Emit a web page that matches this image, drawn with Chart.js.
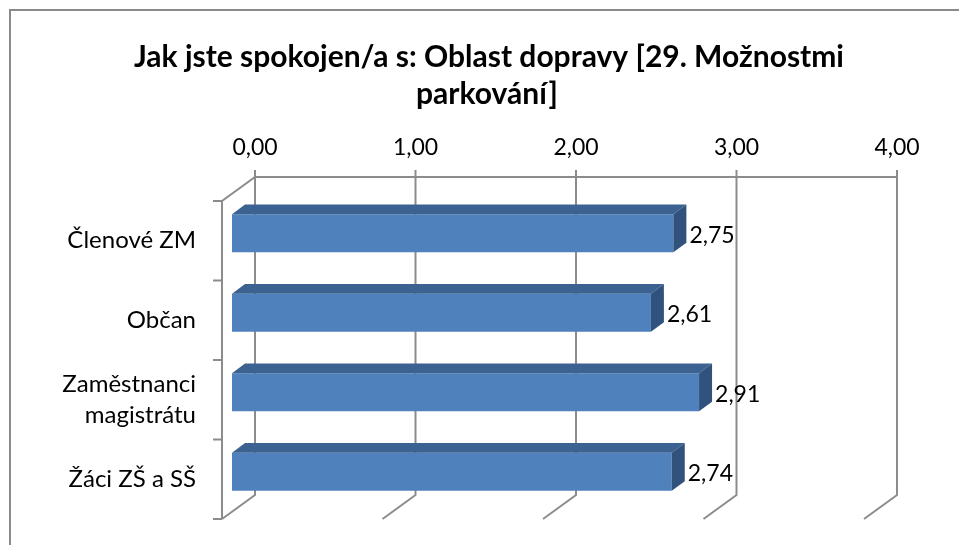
<!DOCTYPE html>
<html>
<head>
<meta charset="utf-8">
<script src="https://cdn.jsdelivr.net/npm/chart.js@4/dist/chart.umd.min.js"></script>
<style>
  html, body { margin: 0; padding: 0; background: #fff; }
  canvas { display: block; }
</style>
</head>
<body>
<canvas id="barChart" width="959" height="545"></canvas>
<script>
const titleLines = ['Jak jste spokojen/a s: Oblast dopravy [29. Možnostmi', 'parkování]'];
const categories = [['Členové ZM'], ['Občan'], ['Zaměstnanci', 'magistrátu'], ['Žáci ZŠ a SŠ']];
const values = [2.75, 2.61, 2.91, 2.74];
const axisMin = 0;
const axisMax = 4;

const FONT = 'Lato';
const GRID = '#8c8c8c';

// depth of the pseudo-3D box, relative to the plane the bar faces sit on
const back = { x: 23, y: -16.5 };
const front = { x: -10, y: 7.5 };
const barDepth = { x: 13, y: -9.7 };

function fmt(v) {
    return v.toFixed(2).replace('.', ',');
}

const frame = {
    id: 'frame',
    beforeDraw(chart) {
        const ctx = chart.ctx;
        ctx.save();
        ctx.strokeStyle = '#8a8a8a';
        ctx.lineWidth = 2;
        ctx.strokeRect(10, 10, 1000, 1000);
        ctx.fillStyle = '#000';
        ctx.font = 'bold 30px ' + FONT;
        ctx.textAlign = 'center';
        ctx.textBaseline = 'alphabetic';
        ctx.fillText(titleLines[0], 489, 67);
        ctx.fillText(titleLines[1], 487, 104);
        ctx.restore();
    }
};

const box3d = {
    id: 'box3d',
    beforeDatasetsDraw(chart) {
        const ctx = chart.ctx;
        const a = chart.chartArea;
        const xs = chart.scales.x;
        const ys = chart.scales.y;
        const x0 = xs.getPixelForValue(axisMin);
        const x1 = xs.getPixelForValue(axisMax);
        ctx.save();
        ctx.strokeStyle = GRID;
        ctx.lineWidth = 2;
        ctx.beginPath();
        // back wall gridlines with their floor diagonals
        xs.ticks.forEach(t => {
            const X = xs.getPixelForValue(t.value) + back.x;
            ctx.moveTo(X, a.top + back.y - 7);
            ctx.lineTo(X, a.bottom + back.y);
            ctx.lineTo(X - back.x + front.x, a.bottom + front.y);
        });
        ctx.moveTo(x1 + back.x, a.top + back.y);
        ctx.lineTo(x0 + back.x, a.top + back.y);
        ctx.lineTo(x0 + front.x, a.top + front.y);
        ctx.lineTo(x0 + front.x, a.bottom + front.y);
        // category ticks on the front axis
        const n = categories.length;
        const band = (a.bottom - a.top) / n;
        for (let i = 0; i <= n; i++) {
            const y = ys.getPixelForValue(0) - band / 2 + i * band + front.y;
            ctx.moveTo(x0 + front.x - 9, y);
            ctx.lineTo(x0 + front.x, y);
        }
        ctx.stroke();
        ctx.restore();
    },
    afterDatasetsDraw(chart) {
        const ctx = chart.ctx;
        const meta = chart.getDatasetMeta(0);
        ctx.save();
        meta.data.forEach((bar, i) => {
            const p = bar.getProps(['x', 'y', 'base', 'height'], true);
            const top = p.y - p.height / 2;
            const bottom = p.y + p.height / 2;
            ctx.fillStyle = '#3c6291';
            ctx.beginPath();
            ctx.moveTo(p.base, top);
            ctx.lineTo(p.base + barDepth.x, top + barDepth.y);
            ctx.lineTo(p.x + barDepth.x, top + barDepth.y);
            ctx.lineTo(p.x, top);
            ctx.closePath();
            ctx.fill();
            ctx.fillStyle = '#31527d';
            ctx.beginPath();
            ctx.moveTo(p.x, top);
            ctx.lineTo(p.x + barDepth.x, top + barDepth.y);
            ctx.lineTo(p.x + barDepth.x, bottom + barDepth.y);
            ctx.lineTo(p.x, bottom);
            ctx.closePath();
            ctx.fill();

            ctx.fillStyle = '#000';
            ctx.font = '23px ' + FONT;
            ctx.textAlign = 'left';
            ctx.textBaseline = 'middle';
            ctx.fillText(fmt(values[i]), p.x + barDepth.x + 3, p.y + 2);
        });
        ctx.restore();
    }
};

new Chart(document.getElementById('barChart'), {
    type: 'bar',
    data: {
        labels: categories,
        datasets: [{
            data: values,
            backgroundColor: '#4f81bd',
            borderWidth: 0,
            barPercentage: 0.48,
            categoryPercentage: 1
        }]
    },
    options: {
        indexAxis: 'y',
        responsive: false,
        animation: false,
        layout: { padding: { top: 100, right: 85, bottom: 33.5, left: 0 } },
        plugins: {
            legend: { display: false },
            title: { display: false },
            tooltip: { enabled: false }
        },
        scales: {
            x: {
                position: 'top',
                min: axisMin,
                max: axisMax,
                grid: { display: false, drawTicks: false },
                border: { display: false },
                ticks: {
                    stepSize: 1,
                    padding: 32.5,
                    labelOffset: back.x,
                    color: '#000',
                    font: { family: FONT, size: 23 },
                    callback: v => fmt(v)
                },
                afterFit(scale) {
                    scale.height = 93.5;
                    scale.paddingLeft = 0;
                    scale.paddingRight = 0;
                }
            },
            y: {
                grid: { display: false, drawTicks: false },
                border: { display: false },
                ticks: {
                    padding: 36,
                    labelOffset: front.y,
                    color: '#000',
                    font: { family: FONT, size: 24, lineHeight: 1.3 }
                },
                afterFit(scale) {
                    scale.width = 232;
                    scale.paddingTop = 0;
                    scale.paddingBottom = 0;
                }
            }
        }
    },
    plugins: [frame, box3d]
});
</script>
</body>
</html>
